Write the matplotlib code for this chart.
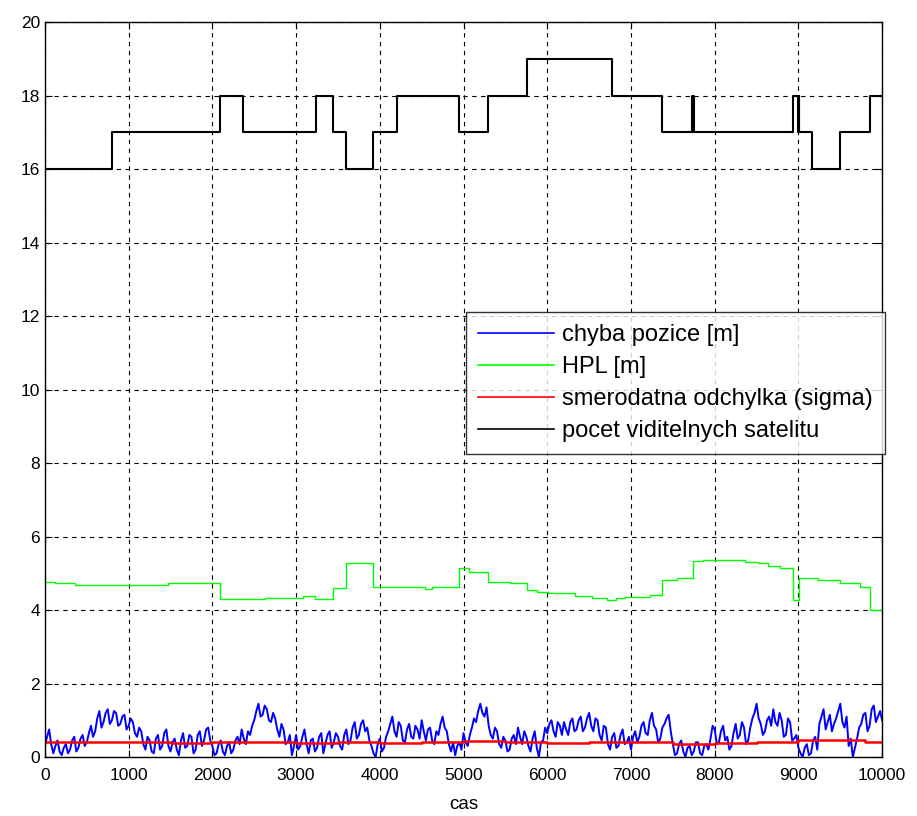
import numpy as np
import matplotlib
matplotlib.use("Agg")
import matplotlib.pyplot as plt

plt.rcParams["font.family"] = ["Liberation Sans", "DejaVu Sans"]

# position error, read every 50 samples
err_t = np.arange(0, 10001, 50)
err_v = [
    0.30, 0.75, 0.10, 0.45, 0.05, 0.35, 0.20, 0.55, 0.25, 0.60,
    0.40, 0.85, 0.70, 1.25, 0.95, 1.30, 1.00, 1.20, 0.90, 1.15,
    0.85, 0.95, 0.55, 0.70, 0.20, 0.45, 0.10, 0.60, 0.30, 0.75,
    0.15, 0.50, 0.05, 0.65, 0.30, 0.55, 0.20, 0.70, 0.45, 0.80,
    0.30, 0.10, 0.45, 0.05, 0.40, 0.20, 0.55, 0.75, 0.35, 0.60,
    1.00, 1.45, 1.15, 1.30, 0.95, 1.05, 0.55, 0.75, 0.40, 0.05,
    0.60, 0.30, 0.75, 0.10, 0.50, 0.25, 0.65, 0.35, 0.70, 0.40,
    0.55, 0.20, 0.75, 0.45, 0.95, 0.60, 1.00, 0.80, 0.30, 0.00,
    0.50, 0.25, 0.70, 1.10, 0.55, 0.85, 0.40, 0.90, 0.50, 0.75,
    1.00, 0.45, 0.80, 0.35, 0.60, 1.10, 0.70, 0.15, 0.05, 0.40,
    0.65, 0.30, 0.80, 0.95, 1.45, 1.10, 0.85, 0.50, 0.70, 0.25,
    0.45, 0.20, 0.60, 0.80, 0.35, 0.55, 0.15, 0.70, 0.00, 0.45,
    0.65, 1.00, 0.55, 0.85, 0.95, 0.60, 1.05, 0.75, 1.10, 0.80,
    1.20, 0.70, 1.00, 0.45, 0.80, 0.20, 0.65, 0.30, 0.75, 0.40,
    0.20, 0.70, 0.55, 0.95, 0.60, 1.20, 0.75, 0.50, 0.90, 1.15,
    0.35, 0.10, 0.45, 0.00, 0.30, 0.15, 0.40, 0.05, 0.35, 0.50,
    0.75, 0.40, 0.85, 0.55, 0.30, 0.90, 0.60, 0.80, 0.45, 1.05,
    1.45, 0.90, 0.70, 1.10, 1.30, 0.85, 1.00, 0.60, 0.95, 0.50,
    0.25, 0.00, 0.35, 0.10, 0.55, 0.90, 1.30, 0.95, 0.70, 1.05,
    1.45, 0.80, 0.30, 0.00, 0.50, 0.90, 1.20, 0.85, 1.40, 1.10,
    1.00,
]
# position error in between (25, 75, ...)
err_mid_t = np.arange(25, 10000, 50)
err_mid_v = [
    0.55, 0.35, 0.30, 0.15, 0.25, 0.10, 0.45, 0.15, 0.50, 0.30,
    0.65, 0.55, 1.05, 0.80, 1.20, 0.90, 1.25, 0.85, 1.10, 0.75,
    1.05, 0.65, 0.80, 0.35, 0.55, 0.15, 0.50, 0.20, 0.65, 0.30,
    0.40, 0.20, 0.45, 0.25, 0.60, 0.10, 0.60, 0.30, 0.75, 0.45,
    0.05, 0.35, 0.15, 0.30, 0.10, 0.45, 0.35, 0.50, 0.70, 0.85,
    1.25, 1.10, 1.40, 1.00, 1.20, 0.75, 0.90, 0.35, 0.60, 0.30,
    0.20, 0.55, 0.35, 0.45, 0.15, 0.55, 0.10, 0.60, 0.25, 0.65,
    0.30, 0.60, 0.35, 0.80, 0.50, 0.90, 0.70, 0.45, 0.10, 0.35,
    0.15, 0.55, 0.90, 0.70, 0.95, 0.45, 0.75, 0.55, 0.85, 0.50,
    0.70, 0.75, 0.45, 0.70, 0.90, 0.80, 0.35, 0.40, 0.30, 0.20,
    0.40, 0.60, 1.05, 1.25, 1.20, 1.35, 0.60, 0.80, 0.35, 0.55,
    0.15, 0.50, 0.35, 0.55, 0.70, 0.30, 0.50, 0.25, 0.40, 0.80,
    0.90, 0.70, 0.95, 0.60, 0.75, 0.95, 0.70, 1.00, 0.70, 1.05,
    0.85, 1.05, 0.60, 0.85, 0.35, 0.55, 0.25, 0.60, 0.35, 0.55,
    0.55, 0.40, 0.85, 0.65, 1.00, 0.85, 0.40, 0.80, 1.05, 0.70,
    0.05, 0.35, 0.15, 0.25, 0.05, 0.40, 0.10, 0.30, 0.20, 0.85,
    0.35, 0.70, 0.45, 0.20, 0.65, 0.50, 0.95, 0.35, 0.80, 1.20,
    1.05, 0.60, 1.00, 0.85, 0.95, 1.20, 0.55, 1.05, 0.45, 0.60,
    0.10, 0.25, 0.05, 0.45, 0.20, 1.10, 0.75, 1.15, 0.90, 1.25,
    0.95, 1.10, 0.50, 0.25, 0.80, 1.15, 0.70, 1.30, 0.95, 1.25,
]

# HPL, piecewise constant
hpl_t = [0, 120, 360, 1474, 2090, 2630, 3086, 3226, 3445, 3596, 3923, 4540,
         4620, 4950, 5060, 5297, 5556, 5755, 5880, 6010, 6332, 6531, 6710,
         6820, 6930, 7228, 7368, 7547, 7746, 7860, 8363, 8522, 8640, 8781,
         8940, 9012, 9239, 9498, 9737, 9850, 10000]
hpl_v = [4.77, 4.74, 4.69, 4.73, 4.30, 4.33, 4.39, 4.29, 4.59, 5.27, 4.63, 4.58,
         4.63, 5.13, 5.04, 4.77, 4.73, 4.54, 4.50, 4.45, 4.38, 4.32, 4.27,
         4.32, 4.35, 4.41, 4.82, 4.88, 5.34, 5.36, 5.31, 5.27, 5.21, 5.13,
         4.27, 4.86, 4.83, 4.73, 4.63, 4.00, 4.00]

# sigma, piecewise constant
sig_t = [0, 250, 500, 1000, 1500, 2000, 2500, 3000, 3500, 4000, 4500, 5000,
         5500, 6000, 6500, 7000, 7500, 8000, 8500, 9000, 9500, 9800, 10000]
sig_v = [0.42, 0.40, 0.41, 0.42, 0.38, 0.40, 0.42, 0.37, 0.40, 0.38, 0.41, 0.43,
         0.40, 0.38, 0.40, 0.41, 0.36, 0.38, 0.40, 0.45, 0.46, 0.40, 0.40]

# number of visible satellites
sat_t = [0, 800, 2090, 2370, 3234, 3445, 3596, 3923, 4200, 4950, 5297, 5755,
         6770, 7368, 7730, 7737, 7742, 7748, 8940, 8995, 9005, 9012, 9030,
         9160, 9498, 9850, 10000]
sat_n = [16, 17, 18, 17, 18, 17, 16, 17, 18, 17, 18, 19,
         18, 17, 18, 17, 18, 17, 18, 17, 18, 17, 17,
         16, 17, 18, 18]

labels = ["chyba pozice [m]", "HPL [m]", "smerodatna odchylka (sigma)",
          "pocet viditelnych satelitu"]

all_t = np.concatenate([err_t, err_mid_t])
all_v = np.concatenate([err_v, err_mid_v])
order = np.argsort(all_t)

fig = plt.figure(figsize=(9.17, 8.16), dpi=100)
ax = fig.add_axes([0.049, 0.0723, 0.913, 0.9007])

ax.plot(all_t[order], all_v[order], color="#0000ff", lw=1.4, label=labels[0])
ax.step(hpl_t, hpl_v, where="post", color="#00ff00", lw=1.0, label=labels[1])
ax.step(sig_t, sig_v, where="post", color="#ff0000", lw=1.8, label=labels[2])
ax.step(sat_t, sat_n, where="post", color="black", lw=1.5, label=labels[3])

ax.set_xlim(0, 10000)
ax.set_ylim(0, 20)
ax.set_xticks(np.arange(0, 10001, 1000))
ax.set_yticks(np.arange(0, 21, 2))
ax.tick_params(direction="in", top=True, right=True, length=5, labelsize=12.5)
ax.tick_params(axis="x", pad=8)
ax.grid(True, color="black", ls=(0, (4, 4)), lw=0.8)
for s in ax.spines.values():
    s.set_linewidth(1.0)
ax.set_xlabel("cas", fontsize=13.5, labelpad=9)

leg = ax.legend(loc="upper right", bbox_to_anchor=(1.003, 0.605), fontsize=17,
                frameon=True, fancybox=False, edgecolor="black",
                handlelength=3.2, borderpad=0.5, labelspacing=0.42,
                handletextpad=0.35, borderaxespad=0)
leg.get_frame().set_linewidth(1.0)
for ln in leg.get_lines():
    ln.set_linewidth(1.2)

fig.savefig("out.png", dpi=100)
